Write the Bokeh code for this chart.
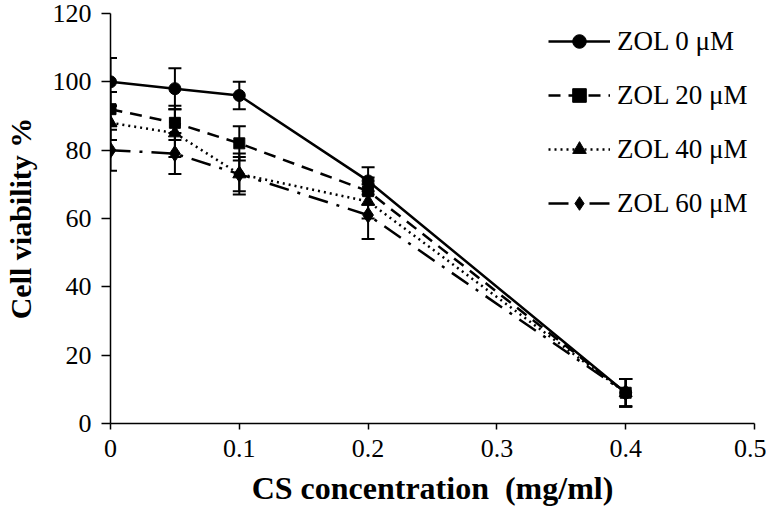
from bokeh.plotting import figure
from bokeh.models import ColumnDataSource, Whisker, TeeHead, FixedTicker, Legend, LegendItem, Range1d
from bokeh.embed import file_html
from bokeh.resources import INLINE

conc = [0, 0.05, 0.1, 0.2, 0.4]
series_names = ["ZOL 0 \u03bcM", "ZOL 20 \u03bcM", "ZOL 40 \u03bcM", "ZOL 60 \u03bcM"]
zol0 = [100, 98, 96, 71, 9]
zol20 = [92, 88, 82, 68, 9]
zol40 = [88, 85, 73, 65, 9]
zol60 = [80, 79, 73, 61, 9]
err0 = [7, 6, 4, 4, 4]
err20 = [5, 5, 5, 4, 4]
err40 = [5, 7, 5, 5, 4]
err60 = [6, 6, 6, 7, 4]
x_ticks = [0, 0.1, 0.2, 0.3, 0.4, 0.5]
x_tick_labels = ["0", "0.1", "0.2", "0.3", "0.4", "0.5"]
y_ticks = [0, 20, 40, 60, 80, 100, 120]

FONT = "Liberation Serif"

p = figure(width=766, height=508, output_backend="svg", toolbar_location=None,
           x_range=Range1d(0, 0.5), y_range=Range1d(0, 120),
           min_border_left=108, min_border_right=12, min_border_top=13, min_border_bottom=85)
p.outline_line_color = None
p.xgrid.visible = False
p.ygrid.visible = False
p.background_fill_color = "white"

for ax in (p.xaxis[0], p.yaxis[0]):
    ax.axis_line_color = "black"
    ax.axis_line_width = 1.5
    ax.major_tick_line_color = "black"
    ax.major_tick_line_width = 1.5
    ax.minor_tick_line_color = None
    ax.major_tick_in = 0
    ax.major_label_text_font = FONT
    ax.major_label_text_font_size = "26px"
    ax.major_label_text_color = "black"
    ax.axis_label_text_font = FONT
    ax.axis_label_text_font_style = "bold"
    ax.axis_label_text_color = "black"

p.xaxis.ticker = FixedTicker(ticks=x_ticks)
p.xaxis.major_label_overrides = {t: l for t, l in zip(x_ticks, x_tick_labels)}
p.xaxis.major_tick_out = 6
p.xaxis.major_label_standoff = 10
p.xaxis.axis_label = "CS concentration\u00a0 (mg/ml)"
p.xaxis.axis_label_text_font_size = "32px"
p.xaxis.axis_label_standoff = 10
p.yaxis.ticker = FixedTicker(ticks=y_ticks)
p.yaxis.major_tick_out = 9
p.yaxis.major_label_standoff = 10
p.yaxis.axis_label = "Cell viability %"
p.yaxis.axis_label_text_font_size = "30px"
p.yaxis.axis_label_standoff = 13
p.yaxis.major_label_orientation = "horizontal"

vals = [zol0, zol20, zol40, zol60]
errs = [err0, err20, err40, err60]
dashes = ["solid", "12 8", "2 4", "20 9 3 9"]
markers = ["circle", "square", "triangle", "diamond"]
msizes = [12, 11, 13, 16]

items = []
for name, v, e, d, m, s in zip(series_names, vals, errs, dashes, markers, msizes):
    src = ColumnDataSource(dict(x=conc, y=v,
                                lo=[a - b for a, b in zip(v, e)],
                                hi=[a + b for a, b in zip(v, e)]))
    ln = p.line("x", "y", source=src, line_color="black", line_width=2.5, line_dash=d)
    w = Whisker(base="x", upper="hi", lower="lo", source=src, dimension="height",
                line_color="black", line_width=2,
                upper_head=TeeHead(size=13, line_color="black", line_width=2),
                lower_head=TeeHead(size=13, line_color="black", line_width=2))
    p.add_layout(w)
    mk = p.scatter("x", "y", source=src, marker=m, size=s, fill_color="black", line_color="black")
    items.append(LegendItem(label=name, renderers=[ln, mk]))

leg = Legend(items=items, location=(438, 203), glyph_width=62, glyph_height=34,
             label_height=34, spacing=20, padding=5, label_standoff=7,
             label_text_font=FONT, label_text_font_size="27px", label_text_color="black",
             background_fill_alpha=0, border_line_color=None, margin=0)
p.add_layout(leg)

open("out.html", "w").write(file_html(p, INLINE))
